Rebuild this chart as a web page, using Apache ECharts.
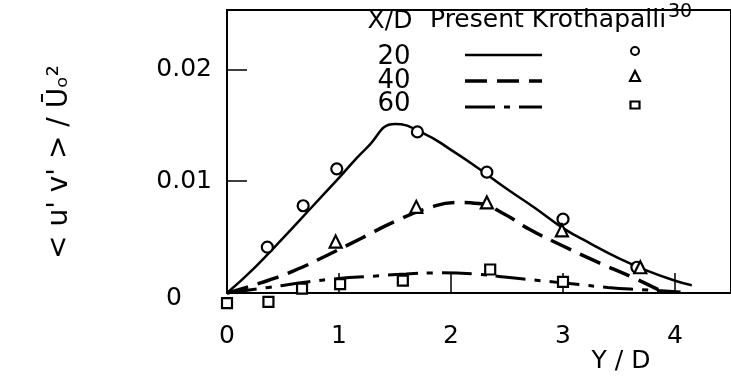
<!DOCTYPE html>
<html>
<head>
<meta charset="utf-8">
<script src="https://cdn.jsdelivr.net/npm/echarts@6/dist/echarts.min.js"></script>
<style>
  html, body { margin: 0; padding: 0; background: #fff; }
  #chart { width: 731px; height: 378px; }
</style>
</head>
<body>
<div id="chart"></div>
<script>
// Reynolds shear stress profiles <u'v'>/U0^2 against Y/D at three stations X/D

const stations = ['20', '40', '60'];
const xTickValues = [0, 1, 2, 3, 4];
const yTickValues = [0, 0.01, 0.02];

// Present computations (curves)
const present20Y = [0, 0.25, 0.5, 0.75, 1.0, 1.25, 1.5, 1.75, 2.0, 2.25, 2.5, 2.75, 3.0, 3.25, 3.5, 3.75, 4.0, 4.15];
const present20V = [0, 0.0023, 0.0049, 0.0076, 0.0103, 0.0130, 0.0151, 0.0143, 0.0128, 0.0111, 0.0093, 0.0076, 0.0058, 0.0044, 0.0031, 0.0020, 0.0011, 0.0007];

const present40Y = [0, 0.3, 0.6, 0.9, 1.2, 1.5, 1.8, 2.05, 2.25, 2.45, 2.7, 3.0, 3.3, 3.6, 3.85];
const present40V = [0, 0.0009, 0.0020, 0.0034, 0.0049, 0.0064, 0.0076, 0.0081, 0.0080, 0.0072, 0.0057, 0.0042, 0.0028, 0.0015, 0.0003];

const present60Y = [0, 0.37, 0.73, 1.00, 1.30, 1.60, 1.90, 2.20, 2.50, 2.80, 3.10, 3.40, 3.70, 4.05];
const present60V = [0, 0.0005, 0.0010, 0.0013, 0.0015, 0.0017, 0.0018, 0.0017, 0.0014, 0.0011, 0.0008, 0.0005, 0.0003, 0.0001];

// Krothapalli measurements (symbols)
const kroth20Y = [0.36, 0.68, 0.98, 1.70, 2.32, 3.00, 3.66];
const kroth20V = [0.0041, 0.0078, 0.0111, 0.0144, 0.0108, 0.0066, 0.0023];

const kroth40Y = [0.97, 1.69, 2.32, 2.99, 3.69];
const kroth40V = [0.0046, 0.0077, 0.0081, 0.0056, 0.0023];

const kroth60Y = [0, 0.37, 0.67, 1.01, 1.57, 2.35, 3.00];
const kroth60V = [-0.0009, -0.0008, 0.0004, 0.0008, 0.0011, 0.0021, 0.0010];

const FONT = '"DejaVu Sans", sans-serif';
const INK = '#000';

const pair = (xs, ys) => xs.map((x, i) => [x, ys[i]]);

const curveStyles = [
  { type: 'solid', width: 2.5 },
  { type: [22, 10], width: 3.5 },
  { type: [30, 9, 6, 9], width: 3 }
];
const markerShapes = ['circle', 'triangle', 'rect'];
const markerSizes = [11, 12, 10];

const curves = [pair(present20Y, present20V), pair(present40Y, present40V), pair(present60Y, present60V)];
const points = [pair(kroth20Y, kroth20V), pair(kroth40Y, kroth40V), pair(kroth60Y, kroth60V)];

const series = [];
stations.forEach((s, i) => {
  series.push({
    name: 'Present ' + s,
    type: 'line',
    data: curves[i],
    smooth: 0.5,
    symbol: 'none',
    clip: false,
    lineStyle: { color: INK, width: curveStyles[i].width, type: curveStyles[i].type },
    z: 2
  });
});
stations.forEach((s, i) => {
  series.push({
    name: 'Krothapalli ' + s,
    type: 'scatter',
    data: points[i],
    symbol: markerShapes[i],
    symbolSize: markerSizes[i],
    clip: false,
    itemStyle: { color: '#fff', borderColor: INK, borderWidth: 2.2, opacity: 1 },
    z: 3
  });
});

// Legend table: station number, curve sample, symbol
const legendRowsY = [57, 81, 104];
const legendGraphics = [
  { type: 'text', x: 390, y: 21, style: { text: 'X/D', font: '25px ' + FONT, fill: INK, textAlign: 'center', textVerticalAlign: 'middle' } },
  { type: 'text', x: 430, y: 20, style: { text: 'Present Krothapalli', font: '25px ' + FONT, fill: INK, textAlign: 'left', textVerticalAlign: 'middle' } },
  { type: 'text', x: 668, y: 12, style: { text: '30', font: '19px ' + FONT, fill: INK, textAlign: 'left', textVerticalAlign: 'middle' } }
];
stations.forEach((s, i) => {
  const cy = legendRowsY[i];
  legendGraphics.push({ type: 'text', x: 394, y: cy, style: { text: s, font: '26px ' + FONT, fill: INK, textAlign: 'center', textVerticalAlign: 'middle' } });
  legendGraphics.push({
    type: 'line',
    shape: { x1: 465, y1: [55, 81, 107][i], x2: 542, y2: [55, 81, 107][i] },
    style: { stroke: INK, lineWidth: curveStyles[i].width, lineDash: curveStyles[i].type === 'solid' ? null : curveStyles[i].type }
  });
});
legendGraphics.push({ type: 'circle', shape: { cx: 635, cy: 51, r: 4 }, style: { fill: '#fff', stroke: INK, lineWidth: 2 } });
legendGraphics.push({ type: 'polygon', shape: { points: [[635, 71], [630, 81], [640, 81]] }, style: { fill: '#fff', stroke: INK, lineWidth: 2.2 } });
legendGraphics.push({ type: 'rect', shape: { x: 630.5, y: 101.5, width: 9, height: 7 }, style: { fill: '#fff', stroke: INK, lineWidth: 2.2 } });

// Axis titles
legendGraphics.push({ type: 'text', x: 621, y: 361, style: { text: 'Y / D', font: '25px ' + FONT, fill: INK, textAlign: 'center', textVerticalAlign: 'middle' } });
legendGraphics.push({
  type: 'text', x: 60, y: 162, rotation: Math.PI / 2,
  style: { text: "< u' v' > / Ūₒ²", font: '28px ' + FONT, fill: INK, textAlign: 'center', textVerticalAlign: 'middle' }
});

const chart = echarts.init(document.getElementById('chart'), null, { renderer: 'canvas' });
chart.setOption({
  backgroundColor: '#fff',
  animation: false,
  grid: { left: 227, top: 10, width: 504, height: 283, show: true, borderColor: INK, borderWidth: 2, backgroundColor: 'transparent' },
  xAxis: {
    type: 'value', min: 0, max: 4.5, interval: 1,
    axisLine: { show: true, onZero: false, lineStyle: { color: INK, width: 2 } },
    axisTick: { show: true, inside: true, length: 20, lineStyle: { color: INK, width: 1.5 } },
    axisLabel: {
      color: INK, fontFamily: FONT, fontSize: 25, margin: 31, showMaxLabel: false,
      formatter: v => (xTickValues.indexOf(v) >= 0 ? String(v) : '')
    },
    splitLine: { show: false }
  },
  yAxis: {
    type: 'value', min: 0, max: 0.0253, interval: 0.01,
    axisLine: { show: true, lineStyle: { color: INK, width: 2 } },
    axisTick: { show: true, inside: true, length: 20, lineStyle: { color: INK, width: 1.5 } },
    axisLabel: {
      color: INK, fontFamily: FONT, fontSize: 25, margin: 15, showMaxLabel: false,
      formatter: v => {
        const k = yTickValues.findIndex(t => Math.abs(t - v) < 1e-9);
        if (k < 0) return '';
        return k === 0 ? '{z|0}' : yTickValues[k].toFixed(2);
      },
      rich: { z: { fontFamily: FONT, fontSize: 25, color: INK, padding: [10, 30, 0, 0] } }
    },
    splitLine: { show: false }
  },
  graphic: legendGraphics,
  series: series
});
</script>
</body>
</html>
